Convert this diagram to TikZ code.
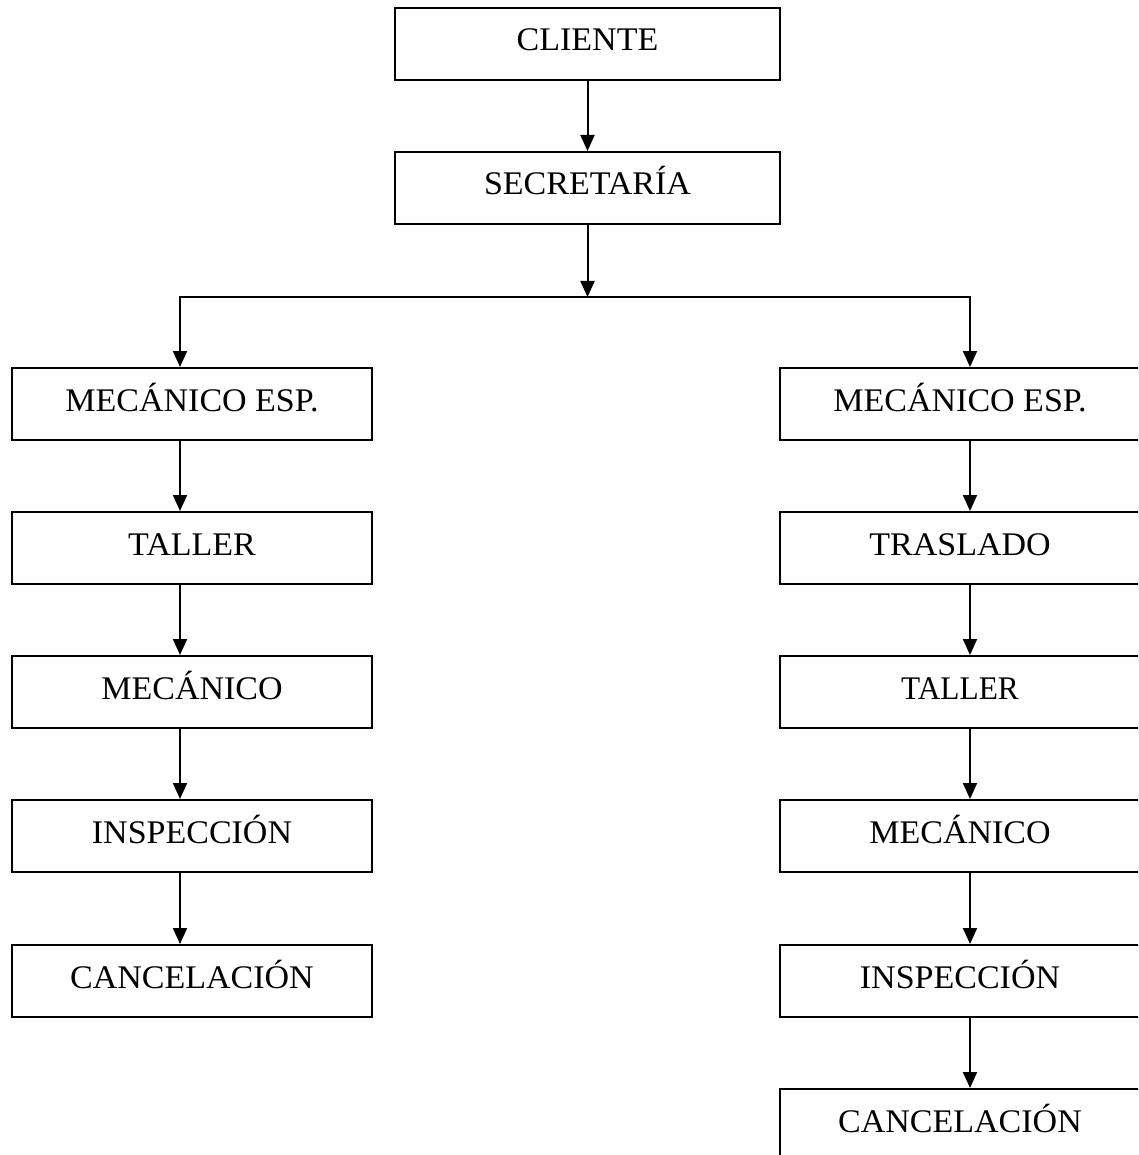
\documentclass[tikz,border=0pt]{standalone}
\usepackage{fontspec}
\setmainfont[FakeStretch=1.03]{Liberation Serif}
\newfontfamily\narrowfont[FakeStretch=0.95]{Liberation Serif}
\usetikzlibrary{arrows.meta}
\tikzset{
  box/.style={draw, line width=2pt, minimum width=360pt, minimum height=72pt, inner sep=0pt,
    font=\fontsize{33}{40}\selectfont, text height=23pt, text depth=9pt},
  wbox/.style={box, minimum width=385pt},
  arr/.style={line width=2pt, -{Triangle[length=16pt,width=14pt]}},
  ln/.style={line width=2pt}
}
\begin{document}
\begin{tikzpicture}[x=1pt,y=-1pt]
\useasboundingbox (0,0) rectangle (1138,1155);
\clip (0,0) rectangle (1138,1155);
\fill[white] (0,0) rectangle (1138,1155);

\node[wbox] (cli) at (587.5,44) {CLIENTE};
\node[wbox] (sec) at (587.5,188) {SECRETARÍA};

\node[box] (l1) at (192,404) {MECÁNICO ESP.};
\node[box] (l2) at (192,548) {TALLER};
\node[box] (l3) at (192,692) {MECÁNICO};
\node[box] (l4) at (192,836) {INSPECCIÓN};
\node[box] (l5) at (192,981) {CANCELACIÓN};

\node[box] (r1) at (960,404) {MECÁNICO ESP.};
\node[box] (r2) at (960,548) {TRASLADO};
\node[box, font=\narrowfont\fontsize{33}{40}\selectfont] (r3) at (960,692) {TALLER};
\node[box] (r4) at (960,836) {MECÁNICO};
\node[box] (r5) at (960,981) {INSPECCIÓN};
\node[box] (r6) at (960,1125) {CANCELACIÓN};

\coordinate (bj) at (587.5,297);
\coordinate (bl) at (180,297);
\coordinate (br) at (970,297);

\draw[arr] (cli.south) -- (sec.north);
\draw[arr] (sec.south) -- (bj);
\draw[ln, line cap=rect] (bl) -- (br);
\draw[arr] (bl) -- ([xshift=-12pt]l1.north);
\draw[arr] (br) -- ([xshift=10pt]r1.north);

\foreach \a/\b in {l1/l2,l2/l3,l3/l4,l4/l5}
  \draw[arr] ([xshift=-12pt]\a.south) -- ([xshift=-12pt]\b.north);
\foreach \a/\b in {r1/r2,r2/r3,r3/r4,r4/r5,r5/r6}
  \draw[arr] ([xshift=10pt]\a.south) -- ([xshift=10pt]\b.north);
\end{tikzpicture}
\end{document}
